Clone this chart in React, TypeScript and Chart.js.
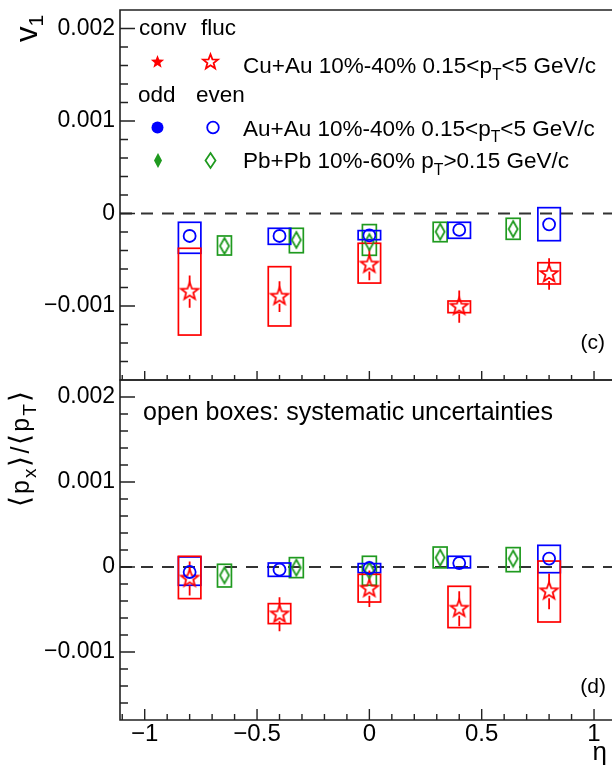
import { useEffect, useRef } from 'react';
import { Chart, registerables } from 'chart.js';

Chart.register(...registerables);

const FONT = "'Liberation Sans', Arial, Helvetica, sans-serif";
const RED = '#ff0000';
const BLUE = '#0000ff';
const GREEN = '#1f9a1f';
const AXIS = '#222222';
const INK = '#000000';
const MARK_LW = 1.8;

// pseudorapidity bin centres
const etaCuAu = [-0.8, -0.4, 0, 0.4, 0.8];
const etaAuAu = [-0.8, -0.4, 0, 0.4, 0.8];
const etaPbPb = [-0.645, -0.325, 0, 0.315, 0.64];

// panel (c): v1 (fluctuating / even components)
const v1CuAu = [-0.000845, -0.000899, -0.000552, -0.001007, -0.000654];
const v1CuAuStat = [0.000175, 0.000167, 0.00017, 0.000175, 0.00017];
const v1CuAuSysLo = [-0.001314, -0.001216, -0.000752, -0.001072, -0.000762];
const v1CuAuSysHi = [-0.000376, -0.000575, -0.000322, -0.000946, -0.000532];

const v1AuAu = [-0.000243, -0.000243, -0.000237, -0.000178, -0.000117];
const v1AuAuSysLo = [-0.00043, -0.000333, -0.000283, -0.000268, -0.000294];
const v1AuAuSysHi = [-0.000095, -0.00016, -0.000185, -0.000095, 0.000063];

const v1PbPb = [-0.000351, -0.000286, -0.00031, -0.000197, -0.000168];
const v1PbPbSysLo = [-0.000449, -0.000424, -0.000452, -0.000305, -0.000279];
const v1PbPbSysHi = [-0.000243, -0.00016, -0.00012, -0.000095, -0.000052];

// panel (d): <px>/<pT>
const pxCuAu = [-0.000136, -0.000557, -0.000255, -0.00049, -0.000286];
const pxCuAuStat = [0.0002, 0.0002, 0.000215, 0.000206, 0.00021];
const pxCuAuSysLo = [-0.000372, -0.000666, -0.000412, -0.000713, -0.000647];
const pxCuAuSysHi = [0.000126, -0.000431, -0.000086, -0.000227, 0.00007];

const pxAuAu = [-0.000059, -0.000031, -0.000012, 0.000047, 0.000099];
const pxAuAuSysLo = [-0.000215, -0.00011, -0.000067, -0.00001, -0.000067];
const pxAuAuSysHi = [0.000118, 0.000047, 0.00004, 0.000126, 0.000255];

const pxPbPb = [-0.000098, -0.000008, -0.00004, 0.00011, 0.000099];
const pxPbPbSysLo = [-0.000235, -0.000125, -0.000215, -0.00001, -0.000055];
const pxPbPbSysHi = [0.000032, 0.00011, 0.000126, 0.000235, 0.000228];

// axes
const xTicks = [-1, -0.5, 0, 0.5, 1];
const yTicks = [-0.001, 0, 0.001, 0.002];
const X_MIN = -1.11;
const X_MAX = 1.08;
const Y_MIN = -0.0018;
const Y_MAX = 0.0022;

// half widths (in eta) of the systematic boxes
const WIDE_BOX = 0.05;
const NARROW_BOX = 0.031;

type Series = {
  eta: number[];
  val: number[];
  stat?: number[];
  lo: number[];
  hi: number[];
  color: string;
  half: number;
};

const fmtTick = (v: number) => {
  const r = Math.round(v * 1e6) / 1e6;
  if (r === 0) return '0';
  const s = String(Math.abs(r));
  return r < 0 ? '\u2212' + s : s;
};

function starPath(ctx: CanvasRenderingContext2D, x: number, y: number, R: number, r: number) {
  ctx.beginPath();
  for (let i = 0; i < 10; i++) {
    const a = -Math.PI / 2 + (i * Math.PI) / 5;
    const rr = i % 2 === 0 ? R : r;
    const px = x + rr * Math.cos(a);
    const py = y + rr * Math.sin(a);
    if (i === 0) ctx.moveTo(px, py);
    else ctx.lineTo(px, py);
  }
  ctx.closePath();
}

function diamondPath(ctx: CanvasRenderingContext2D, x: number, y: number, w: number, h: number) {
  ctx.beginPath();
  ctx.moveTo(x, y - h / 2);
  ctx.lineTo(x + w / 2, y);
  ctx.lineTo(x, y + h / 2);
  ctx.lineTo(x - w / 2, y);
  ctx.closePath();
}

function finish(ctx: CanvasRenderingContext2D, color: string, filled: boolean) {
  if (filled) {
    ctx.fillStyle = color;
    ctx.fill();
  } else {
    ctx.strokeStyle = color;
    ctx.lineWidth = MARK_LW;
    ctx.stroke();
  }
}

function drawStar(ctx: CanvasRenderingContext2D, x: number, y: number, R: number, color: string, filled: boolean) {
  starPath(ctx, x, y, R, R * 0.42);
  finish(ctx, color, filled);
}

function drawDiamond(ctx: CanvasRenderingContext2D, x: number, y: number, w: number, h: number, color: string, filled: boolean) {
  diamondPath(ctx, x, y, w, h);
  finish(ctx, color, filled);
}

function drawCircle(ctx: CanvasRenderingContext2D, x: number, y: number, r: number, color: string, filled: boolean) {
  ctx.beginPath();
  ctx.arc(x, y, r, 0, Math.PI * 2);
  finish(ctx, color, filled);
}

function markerImage(w: number, h: number, paint: (g: CanvasRenderingContext2D) => void) {
  const c = document.createElement('canvas');
  c.width = w;
  c.height = h;
  const g = c.getContext('2d')!;
  paint(g);
  return c;
}

const openStar = markerImage(24, 24, (g) => drawStar(g, 12, 12, 9, RED, false));
const openDiamond = markerImage(14, 20, (g) => drawDiamond(g, 7, 10, 9, 16, GREEN, false));

// text with lowered subscripts, left aligned on an alphabetic baseline
type Part = { t: string; sub?: boolean; size?: number };
function drawRich(ctx: CanvasRenderingContext2D, parts: Part[], x: number, y: number, size: number, gap = 0) {
  let cx = x;
  ctx.fillStyle = INK;
  ctx.textAlign = 'left';
  ctx.textBaseline = 'alphabetic';
  for (const p of parts) {
    const fs = p.size ?? (p.sub ? size * 0.7 : size);
    ctx.font = `${fs}px ${FONT}`;
    ctx.fillText(p.t, cx, p.sub ? y + size * 0.3 : y);
    cx += ctx.measureText(p.t).width + gap;
  }
  return cx - x;
}

function label(ctx: CanvasRenderingContext2D, t: string, x: number, y: number, size: number, align: CanvasTextAlign = 'left') {
  ctx.fillStyle = INK;
  ctx.font = `${size}px ${FONT}`;
  ctx.textAlign = align;
  ctx.textBaseline = 'alphabetic';
  ctx.fillText(t, x, y);
}

function panelPlugin(id: string, series: Series[], xMajor: number, xMinor: number, extras: (ctx: CanvasRenderingContext2D) => void) {
  return {
    id,
    beforeDatasetsDraw(chart: any) {
      const { ctx, chartArea: a } = chart;
      const xs = chart.scales.x;
      const ys = chart.scales.y;
      ctx.save();
      ctx.beginPath();
      ctx.rect(a.left, a.top, a.right - a.left, a.bottom - a.top);
      ctx.clip();

      // zero line
      const y0 = ys.getPixelForValue(0);
      ctx.strokeStyle = '#333333';
      ctx.lineWidth = 2;
      ctx.setLineDash([12, 9]);
      ctx.beginPath();
      ctx.moveTo(a.left, y0);
      ctx.lineTo(a.right, y0);
      ctx.stroke();
      ctx.setLineDash([]);

      // systematic boxes
      for (const s of series) {
        ctx.strokeStyle = s.color;
        ctx.lineWidth = 1.7;
        s.eta.forEach((e, i) => {
          const x1 = xs.getPixelForValue(e - s.half);
          const x2 = xs.getPixelForValue(e + s.half);
          const yt = ys.getPixelForValue(s.hi[i]);
          const yb = ys.getPixelForValue(s.lo[i]);
          ctx.strokeRect(x1, yt, x2 - x1, yb - yt);
        });
      }

      // statistical error bars
      for (const s of series) {
        if (!s.stat) continue;
        ctx.strokeStyle = s.color;
        ctx.lineWidth = MARK_LW;
        s.eta.forEach((e, i) => {
          const px = xs.getPixelForValue(e);
          const py = ys.getPixelForValue(s.val[i]);
          const yt = ys.getPixelForValue(s.val[i] + s.stat![i]);
          const yb = ys.getPixelForValue(s.val[i] - s.stat![i]);
          const gap = 7;
          ctx.beginPath();
          if (yt < py - gap) {
            ctx.moveTo(px, yt);
            ctx.lineTo(px, py - gap);
          }
          if (yb > py + gap) {
            ctx.moveTo(px, py + gap);
            ctx.lineTo(px, yb);
          }
          ctx.stroke();
        });
      }
      ctx.restore();
    },
    afterDraw(chart: any) {
      const { ctx, chartArea: a } = chart;
      const xs = chart.scales.x;
      const ys = chart.scales.y;
      ctx.save();
      ctx.strokeStyle = AXIS;
      ctx.lineWidth = 1.6;
      // frame (the right edge lies beyond the page)
      ctx.beginPath();
      ctx.moveTo(a.right + 2, a.top);
      ctx.lineTo(a.left, a.top);
      ctx.lineTo(a.left, a.bottom);
      ctx.lineTo(a.right + 2, a.bottom);
      ctx.stroke();

      // y tick marks, pointing inward
      ctx.lineWidth = 1.4;
      ctx.beginPath();
      for (let k = -9; k <= 11; k++) {
        const v = k * 0.0002;
        const py = ys.getPixelForValue(v);
        if (py < a.top + 0.5 || py > a.bottom - 0.5) continue;
        const len = k % 5 === 0 ? 15 : 8;
        ctx.moveTo(a.left, py);
        ctx.lineTo(a.left + len, py);
      }
      // x tick marks, pointing up from the bottom edge
      for (let k = -11; k <= 10; k++) {
        const v = k / 10;
        const px = xs.getPixelForValue(v);
        if (px < a.left + 0.5 || px > a.right - 0.5) continue;
        const len = k % 5 === 0 ? xMajor : xMinor;
        ctx.moveTo(px, a.bottom);
        ctx.lineTo(px, a.bottom - len);
      }
      ctx.stroke();
      ctx.restore();

      ctx.save();
      extras(ctx);
      ctx.restore();
    },
  };
}

const pts = (xs: number[], ys: number[]) => xs.map((x, i) => ({ x, y: ys[i] }));

// keep the plot area exactly where the layout padding and axis sizes put it
const noScalePadding = (s: any) => {
  s.paddingTop = 0;
  s.paddingBottom = 0;
  s.paddingLeft = 0;
  s.paddingRight = 0;
};

function makeConfig(opts: {
  series: Series[];
  auau: number[];
  pbpb: number[];
  cuau: number[];
  padTop: number;
  xHeight: number;
  showX: boolean;
  xMajor: number;
  xMinor: number;
  extras: (ctx: CanvasRenderingContext2D) => void;
  id: string;
}): any {
  return {
    type: 'scatter',
    data: {
      datasets: [
        {
          data: pts(etaAuAu, opts.auau),
          pointStyle: 'circle',
          pointRadius: 6,
          borderWidth: MARK_LW,
          borderColor: BLUE,
          backgroundColor: 'rgba(0,0,0,0)',
          showLine: false,
        },
        {
          data: pts(etaPbPb, opts.pbpb),
          pointStyle: openDiamond,
          pointRadius: 8,
          showLine: false,
        },
        {
          data: pts(etaCuAu, opts.cuau),
          pointStyle: openStar,
          pointRadius: 9,
          showLine: false,
        },
      ],
    },
    options: {
      animation: false,
      responsive: false,
      maintainAspectRatio: false,
      devicePixelRatio: 1,
      events: [],
      layout: { autoPadding: false, padding: { top: opts.padTop, right: 0, bottom: 0, left: 0 } },
      plugins: { legend: { display: false }, tooltip: { enabled: false } },
      scales: {
        x: {
          type: 'linear',
          position: 'bottom',
          min: X_MIN,
          max: X_MAX,
          afterBuildTicks: (s: any) => {
            s.ticks = xTicks.map((value) => ({ value }));
          },
          afterFit: (s: any) => {
            s.height = opts.xHeight;
            noScalePadding(s);
          },
          grid: { display: false, drawTicks: false },
          border: { display: false },
          ticks: {
            display: opts.showX,
            padding: 0,
            autoSkip: false,
            maxRotation: 0,
            color: INK,
            font: { family: FONT, size: 24 },
            callback: (v: any) => fmtTick(Number(v)),
          },
        },
        y: {
          type: 'linear',
          position: 'left',
          min: Y_MIN,
          max: Y_MAX,
          afterBuildTicks: (s: any) => {
            s.ticks = yTicks.map((value) => ({ value }));
          },
          afterFit: (s: any) => {
            s.width = 120;
            noScalePadding(s);
          },
          grid: { display: false, drawTicks: false },
          border: { display: false },
          ticks: {
            padding: 5,
            autoSkip: false,
            color: INK,
            font: { family: FONT, size: 23 },
            callback: (v: any) => fmtTick(Number(v)),
          },
        },
      },
    },
    plugins: [panelPlugin(opts.id, opts.series, opts.xMajor, opts.xMinor, opts.extras)],
  };
}

const topSeries: Series[] = [
  { eta: etaPbPb, val: v1PbPb, lo: v1PbPbSysLo, hi: v1PbPbSysHi, color: GREEN, half: NARROW_BOX },
  { eta: etaAuAu, val: v1AuAu, lo: v1AuAuSysLo, hi: v1AuAuSysHi, color: BLUE, half: WIDE_BOX },
  { eta: etaCuAu, val: v1CuAu, stat: v1CuAuStat, lo: v1CuAuSysLo, hi: v1CuAuSysHi, color: RED, half: WIDE_BOX },
];

const bottomSeries: Series[] = [
  { eta: etaPbPb, val: pxPbPb, lo: pxPbPbSysLo, hi: pxPbPbSysHi, color: GREEN, half: NARROW_BOX },
  { eta: etaAuAu, val: pxAuAu, lo: pxAuAuSysLo, hi: pxAuAuSysHi, color: BLUE, half: WIDE_BOX },
  { eta: etaCuAu, val: pxCuAu, stat: pxCuAuStat, lo: pxCuAuSysLo, hi: pxCuAuSysHi, color: RED, half: WIDE_BOX },
];

const LEG = 22.5;

function topExtras(ctx: CanvasRenderingContext2D) {
  // legend
  label(ctx, 'conv', 139, 35, LEG);
  label(ctx, 'fluc', 201, 35, LEG);
  label(ctx, 'odd', 138, 101.5, LEG);
  label(ctx, 'even', 196, 101.5, LEG);

  drawStar(ctx, 157.5, 62, 7, RED, true);
  drawStar(ctx, 210.5, 62, 7.8, RED, false);
  drawRich(ctx, [{ t: 'Cu+Au 10%-40% 0.15<p' }, { t: 'T', sub: true }, { t: '<5 GeV/c' }], 243, 73, LEG);

  drawCircle(ctx, 157.5, 127.5, 6, BLUE, true);
  drawCircle(ctx, 213, 127.5, 5.8, BLUE, false);
  drawRich(ctx, [{ t: 'Au+Au 10%-40% 0.15<p' }, { t: 'T', sub: true }, { t: '<5 GeV/c' }], 243, 135.5, LEG);

  drawDiamond(ctx, 158, 160.5, 8, 15, GREEN, true);
  drawDiamond(ctx, 210.5, 160.5, 10, 15, GREEN, false);
  drawRich(ctx, [{ t: 'Pb+Pb 10%-60% p' }, { t: 'T', sub: true }, { t: '>0.15 GeV/c' }], 243, 168, LEG);

  // panel tag
  label(ctx, '(c)', 605, 349, 21, 'right');

  // y title: v_1
  ctx.save();
  ctx.translate(37, 42);
  ctx.rotate(-Math.PI / 2);
  drawRich(ctx, [{ t: 'v', size: 31 }, { t: '1', sub: true, size: 21 }], 0, 0, 20);
  ctx.restore();
}

const BOT_TOP = 372;

function bottomExtras(ctx: CanvasRenderingContext2D) {
  label(ctx, 'open boxes: systematic uncertainties', 143, 420 - BOT_TOP, 25);
  label(ctx, '(d)', 606, 692.5 - BOT_TOP, 21, 'right');

  // x title
  label(ctx, '\u03b7', 607, 760 - BOT_TOP, 26, 'right');

  // y title: <p_x>/<p_T>
  ctx.save();
  ctx.translate(29, 507 - BOT_TOP);
  ctx.rotate(-Math.PI / 2);
  drawRich(
    ctx,
    [
      { t: '\u27e8', size: 28 },
      { t: 'p', size: 25 },
      { t: 'x', sub: true, size: 19 },
      { t: '\u27e9', size: 28 },
      { t: '/', size: 25 },
      { t: '\u27e8', size: 28 },
      { t: 'p', size: 25 },
      { t: 'T', sub: true, size: 19 },
      { t: '\u27e9', size: 28 },
    ],
    0,
    0,
    22,
    2
  );
  ctx.restore();
}

export default function App() {
  const topRef = useRef<HTMLCanvasElement>(null);
  const botRef = useRef<HTMLCanvasElement>(null);

  useEffect(() => {
    const top = new Chart(
      topRef.current!,
      makeConfig({
        id: 'panelC',
        series: topSeries,
        auau: v1AuAu,
        pbpb: v1PbPb,
        cuau: v1CuAu,
        padTop: 10,
        xHeight: 4,
        showX: false,
        xMajor: 9,
        xMinor: 5,
        extras: topExtras,
      })
    );
    const bottom = new Chart(
      botRef.current!,
      makeConfig({
        id: 'panelD',
        series: bottomSeries,
        auau: pxAuAu,
        pbpb: pxPbPb,
        cuau: pxCuAu,
        padTop: 380 - BOT_TOP,
        xHeight: 46,
        showX: true,
        xMajor: 11,
        xMinor: 6,
        extras: bottomExtras,
      })
    );
    return () => {
      top.destroy();
      bottom.destroy();
    };
  }, []);

  return (
    <div style={{ position: 'fixed', left: 0, top: 0, width: 612, height: 766, background: '#fff', overflow: 'hidden' }}>
      <canvas ref={topRef} width={612} height={384} style={{ position: 'absolute', left: 0, top: 0, width: 612, height: 384 }} />
      <canvas
        ref={botRef}
        width={612}
        height={394}
        style={{ position: 'absolute', left: 0, top: BOT_TOP, width: 612, height: 394 }}
      />
    </div>
  );
}
